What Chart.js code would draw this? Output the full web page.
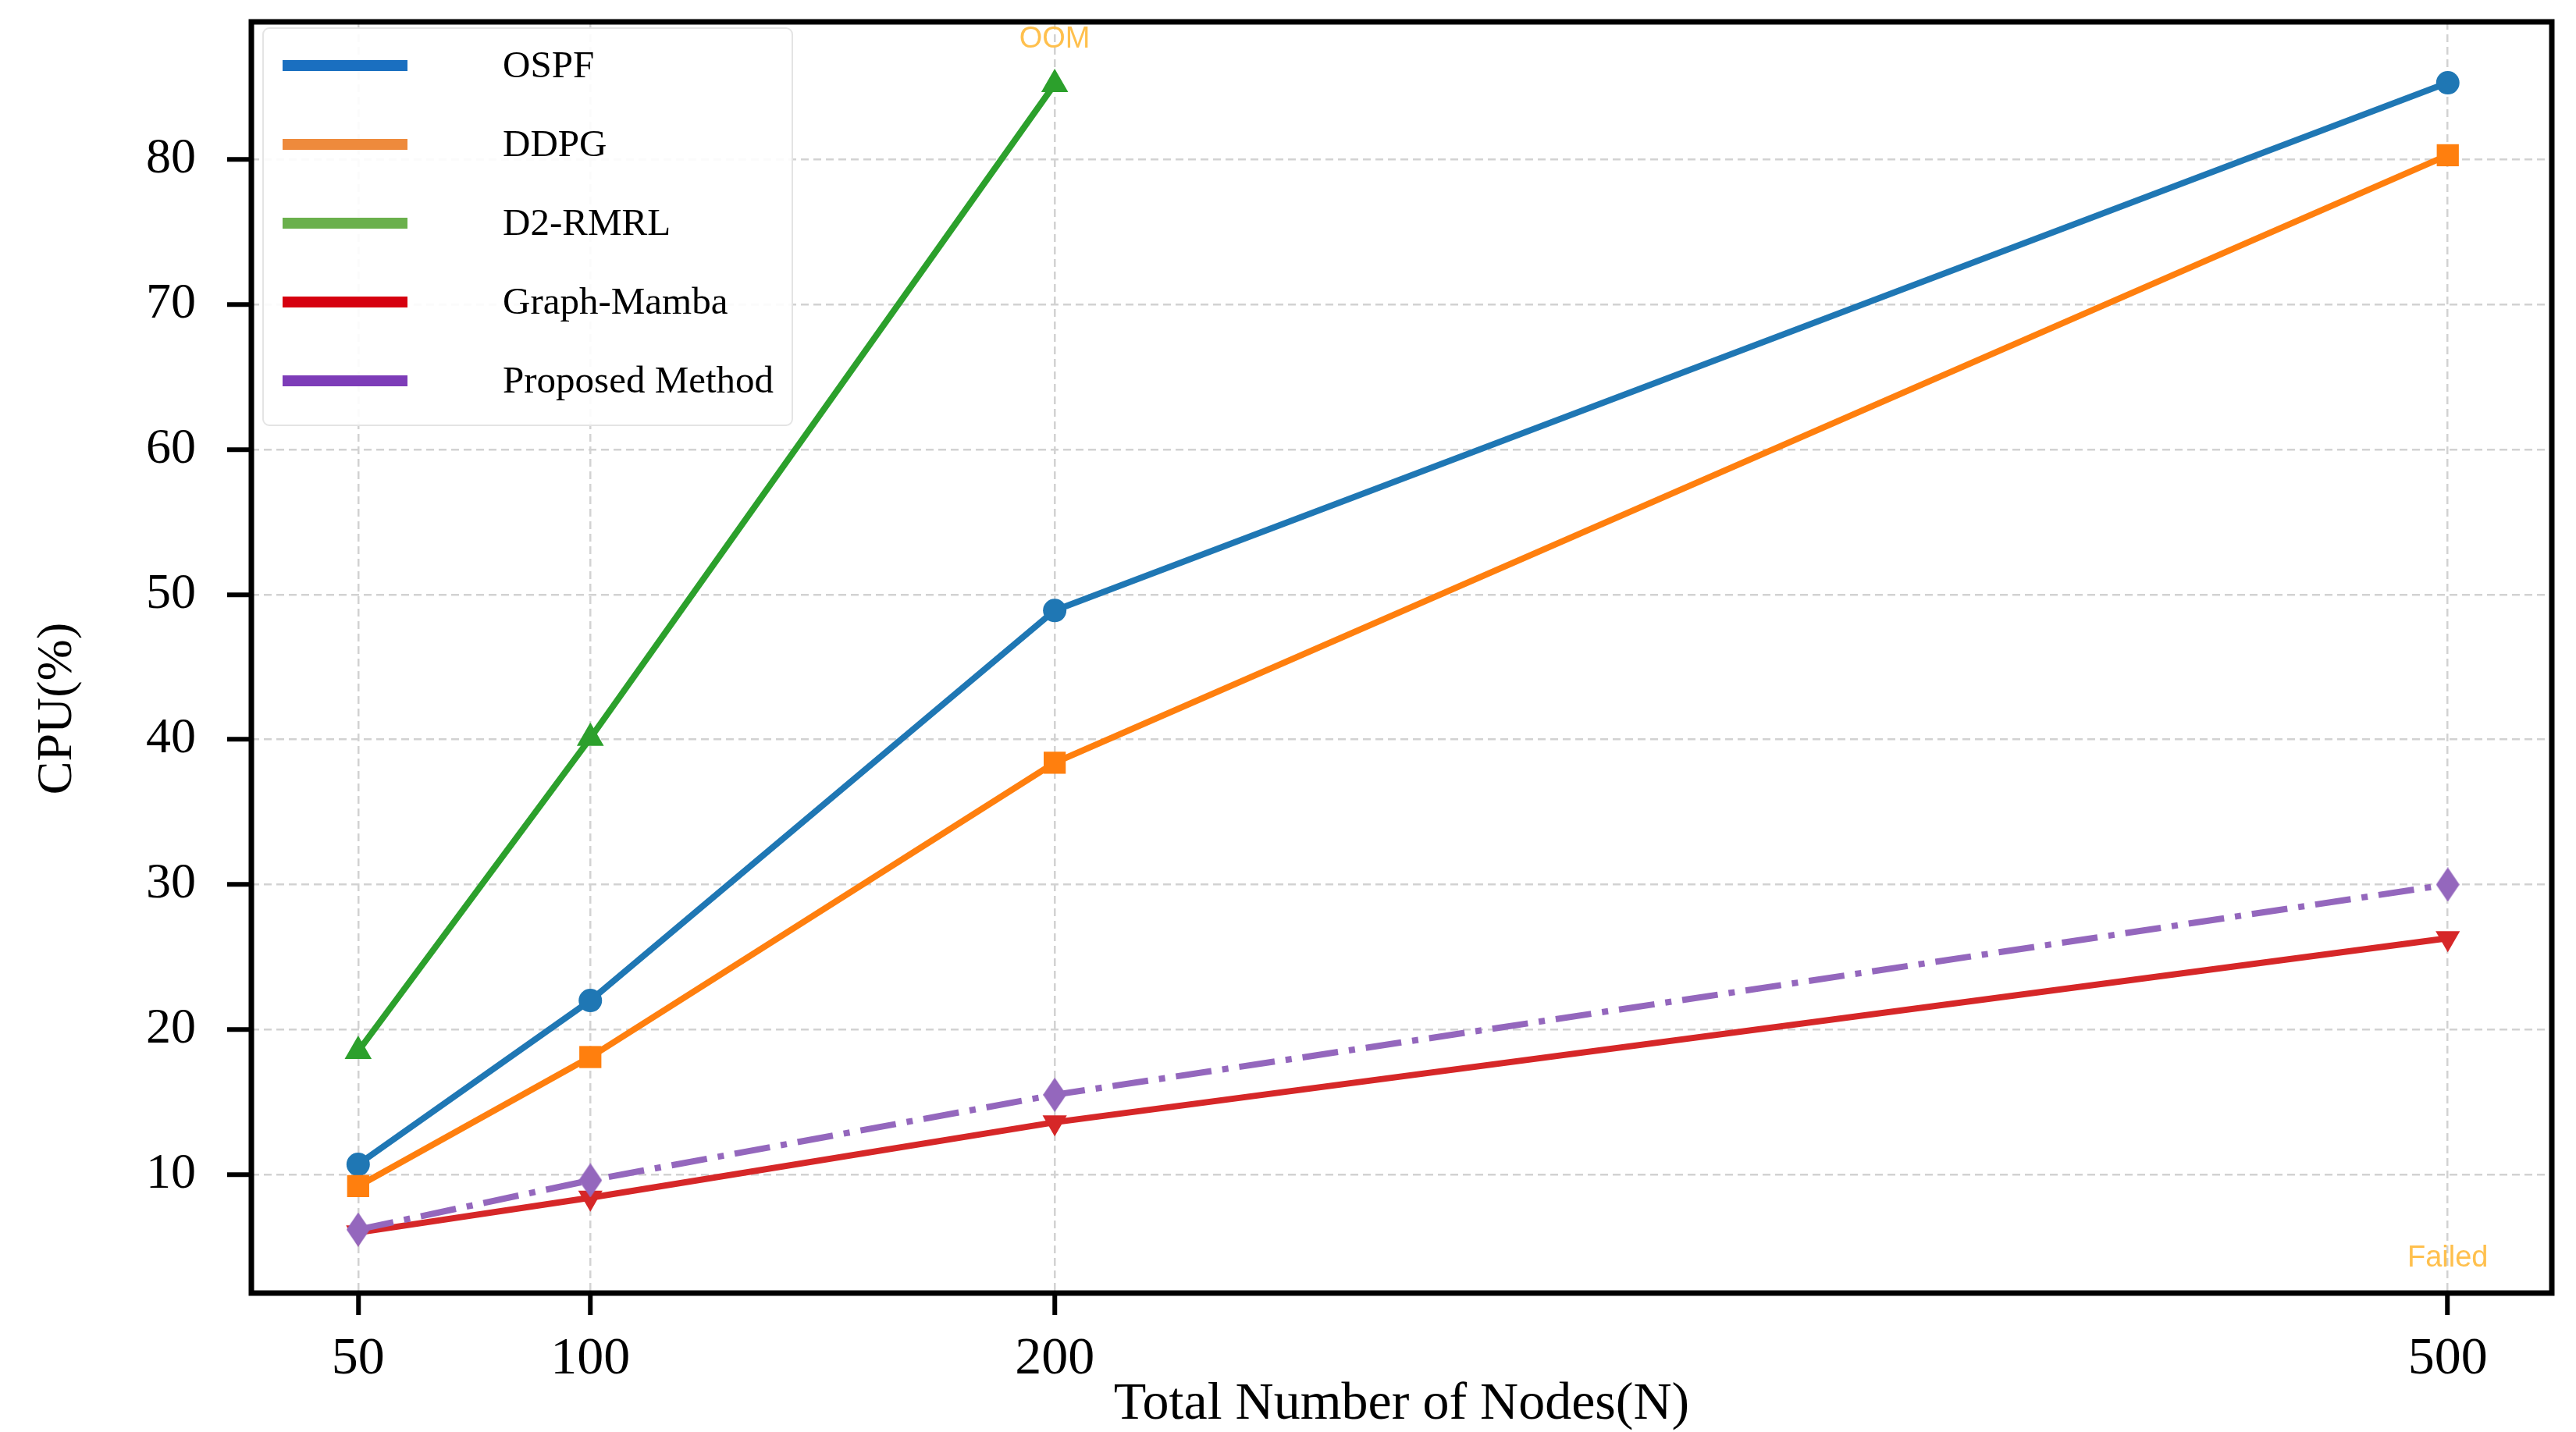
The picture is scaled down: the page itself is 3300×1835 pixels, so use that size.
<!DOCTYPE html>
<html>
<head>
    <meta charset="utf-8">
    <title>CPU vs Total Number of Nodes</title>
    <style>
        html, body { margin: 0; padding: 0; background: #fff; }
        #wrap { width: 3300px; height: 1835px; }
    </style>
    <script src="https://cdn.jsdelivr.net/npm/chart.js@4.4.1/dist/chart.umd.min.js"></script>
</head>
<body>
    <div id="wrap"><canvas id="chartCanvas" width="3300" height="1835"></canvas></div>

    <script>
        // values
        const nodes = [50, 100, 200, 500];
        const xTicks = [50, 100, 200, 500];
        const yTicks = [10, 20, 30, 40, 50, 60, 70, 80];

        const seriesNames = ['OSPF', 'DDPG', 'D2-RMRL', 'Graph-Mamba', 'Proposed Method'];
        const ospf = [10.7, 22.0, 48.9, 85.3];
        const ddpg = [9.2, 18.1, 38.4, 80.3];
        const d2rmrl = [18.5, 40.1, 85.2, null];   // no value at 500 (failed)
        const graphMamba = [6.0, 8.4, 13.6, 26.3];
        const proposed = [6.2, 9.6, 15.5, 30.0];

        const noteX = [200, 500];
        const noteY = [88.3, 4.2];
        const noteText = ['OOM', 'Failed'];

        // styles
        const lineColors = ['#1f77b4', '#ff7f0e', '#2ca02c', '#d62728', '#9467bd'];
        const legendColors = ['#1a6fc0', '#ee8a3c', '#6ab04c', '#d6000f', '#7d3cb8'];
        const serif = "'Liberation Serif', 'Times New Roman', serif";

        function thinDiamond(w, h, color) {
            const c = document.createElement('canvas');
            c.width = w;
            c.height = h;
            const g = c.getContext('2d');
            g.fillStyle = color;
            g.beginPath();
            g.moveTo(w / 2, 0);
            g.lineTo(w, h / 2);
            g.lineTo(w / 2, h);
            g.lineTo(0, h / 2);
            g.closePath();
            g.fill();
            return c;
        }

        function pts(values) {
            return nodes.map((n, i) => ({ x: n, y: values[i] }));
        }

        const allSeries = [ospf, ddpg, d2rmrl, graphMamba, proposed];
        const pointStyles = ['circle', 'rect', 'triangle', 'triangle', thinDiamond(30, 44, lineColors[4])];
        const pointRadii = [15, 20, 20, 18, 15];
        const pointRotations = [0, 0, 0, 180, 0];

        const datasets = allSeries.map((vals, i) => ({
            label: seriesNames[i],
            data: pts(vals),
            borderColor: lineColors[i],
            backgroundColor: lineColors[i],
            borderWidth: 8,
            borderDash: i === 4 ? [46, 14, 8, 14] : [],
            pointStyle: pointStyles[i],
            pointRadius: pointRadii[i],
            pointRotation: pointRotations[i],
            pointBorderWidth: 0,
            tension: 0,
            fill: false,
            order: 5 - i
        }));

        // black frame around the plot area
        const framePlugin = {
            id: 'frame',
            afterDraw(chart) {
                const a = chart.chartArea;
                const ctx = chart.ctx;
                ctx.save();
                ctx.strokeStyle = '#000';
                ctx.lineWidth = 7;
                ctx.strokeRect(a.left, a.top, a.right - a.left, a.bottom - a.top);
                ctx.restore();
            }
        };

        // y axis title sits a little below the middle of the axis in the original
        const yTitlePlugin = {
            id: 'yTitle',
            afterDraw(chart) {
                const ctx = chart.ctx;
                ctx.save();
                ctx.translate(74, 908);
                ctx.rotate(-Math.PI / 2);
                ctx.font = '64px ' + serif;
                ctx.fillStyle = '#000';
                ctx.textAlign = 'center';
                ctx.textBaseline = 'middle';
                ctx.fillText('CPU(%)', 0, 0);
                ctx.restore();
            }
        };

        // OOM / Failed notes
        const notePlugin = {
            id: 'notes',
            afterDatasetsDraw(chart) {
                const ctx = chart.ctx;
                const xs = chart.scales.x, ys = chart.scales.y;
                ctx.save();
                ctx.font = "38px 'Liberation Sans', Arial, sans-serif";
                ctx.fillStyle = '#ffc04d';
                ctx.textAlign = 'center';
                ctx.textBaseline = 'middle';
                noteText.forEach((t, i) => {
                    ctx.fillText(t, xs.getPixelForValue(noteX[i]), ys.getPixelForValue(noteY[i]));
                });
                ctx.restore();
            }
        };

        // legend box in the upper left of the plot
        const legendPlugin = {
            id: 'boxLegend',
            afterDraw(chart) {
                const ctx = chart.ctx;
                const bx = 337, by = 36, bw = 678, bh = 509;
                ctx.save();
                ctx.fillStyle = 'rgba(255,255,255,0.9)';
                ctx.strokeStyle = '#e4e4e4';
                ctx.lineWidth = 2;
                ctx.beginPath();
                ctx.roundRect(bx, by, bw, bh, 8);
                ctx.fill();
                ctx.stroke();

                ctx.font = '49px ' + serif;
                ctx.textBaseline = 'middle';
                ctx.textAlign = 'left';
                chart.data.datasets.forEach((ds, i) => {
                    const y = by + 48 + i * 101;
                    ctx.fillStyle = legendColors[i];
                    ctx.fillRect(362, y - 7, 160, 14);
                    ctx.fillStyle = '#000';
                    ctx.fillText(ds.label, 644, y + 2);
                });
                ctx.restore();
            }
        };

        const gridCommon = {
            color: '#d2d2d2',
            lineWidth: 2.5,
            tickColor: '#000',
            tickWidth: 6,
            tickBorderDash: []
        };

        const chart = new Chart(document.getElementById('chartCanvas').getContext('2d'), {
            type: 'line',
            data: { datasets: datasets },
            options: {
                responsive: false,
                animation: false,
                devicePixelRatio: 1,
                layout: { padding: { left: 0, right: 31, top: 28, bottom: 0 } },
                plugins: {
                    legend: { display: false },
                    tooltip: { enabled: false }
                },
                scales: {
                    x: {
                        type: 'linear',
                        min: 27,
                        max: 522.4,
                        afterBuildTicks: s => { s.ticks = xTicks.map(v => ({ value: v })); },
                        afterFit: s => { s.height = 178; s.paddingLeft = 0; s.paddingRight = 0; },
                        ticks: {
                            color: '#000',
                            font: { family: serif, size: 68, lineHeight: 1.2 },
                            padding: 16,
                            maxRotation: 0,
                            autoSkip: false
                        },
                        grid: Object.assign({ tickLength: 28 }, gridCommon),
                        border: { display: false, dash: [10, 6] },
                        title: {
                            display: true,
                            text: 'Total Number of Nodes(N)',
                            color: '#000',
                            font: { family: serif, size: 68, lineHeight: 1 },
                            padding: { top: 0, bottom: 1 }
                        }
                    },
                    y: {
                        type: 'linear',
                        min: 1.82,
                        max: 89.5,
                        afterBuildTicks: s => { s.ticks = yTicks.map(v => ({ value: v })); },
                        afterFit: s => { s.width = 322; s.paddingTop = 0; s.paddingBottom = 0; },
                        ticks: {
                            color: '#000',
                            font: { family: serif, size: 64, lineHeight: 1.2 },
                            padding: 40
                        },
                        grid: Object.assign({ tickLength: 31 }, gridCommon),
                        border: { display: false, dash: [10, 6] }
                    }
                }
            },
            plugins: [notePlugin, framePlugin, yTitlePlugin, legendPlugin]
        });
    </script>
</body>
</html>
